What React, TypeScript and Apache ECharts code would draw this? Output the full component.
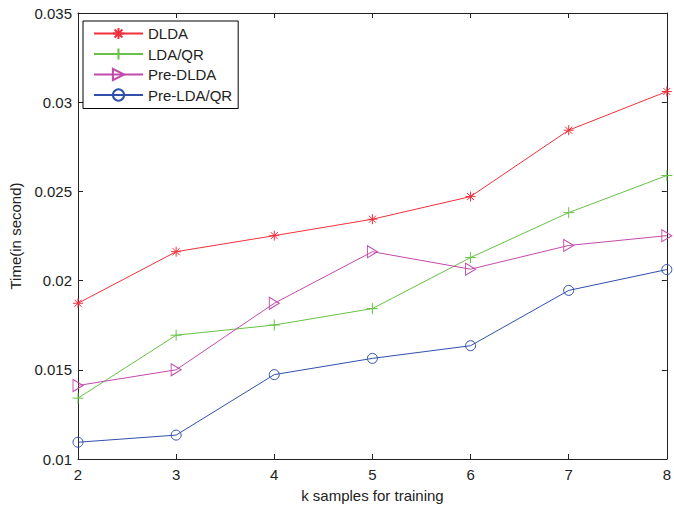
import React, { useEffect, useRef } from "react";
import * as echarts from "echarts";

const kValues = ["2", "3", "4", "5", "6", "7", "8"];
const dlda = [0.01873, 0.02162, 0.02252, 0.02344, 0.02471, 0.02843, 0.0306];
const ldaqr = [0.01341, 0.01694, 0.01751, 0.01843, 0.02129, 0.02381, 0.02589];
const preDlda = [0.01412, 0.015, 0.01873, 0.02162, 0.02064, 0.02197, 0.02252];
const preLdaqr = [0.01094, 0.01134, 0.01473, 0.01564, 0.01635, 0.01945, 0.02062];
const seriesNames = ["DLDA", "LDA/QR", "Pre-DLDA", "Pre-LDA/QR"];

const FONT = "Liberation Sans, Arial, Helvetica, sans-serif";
const asterisk = "path://M5,0L5,10M0,5L10,5M1.5,1.5L8.5,8.5M1.5,8.5L8.5,1.5";
const plus = "path://M5,0L5,10M0,5L10,5";
const triRight = "path://M0,0L10,5L0,10Z";

export default function App() {
  const ref = useRef<HTMLDivElement>(null);
  useEffect(() => {
    const chart = echarts.init(ref.current!, null, { renderer: "svg" });
    const mk = (name: string, data: number[], color: string, symbol: string, size: any, filled = false) => ({
      name,
      type: "line",
      data,
      symbol,
      symbolSize: size,
      showAllSymbol: true,
      lineStyle: { color, width: 1 },
      itemStyle: { color: filled ? color : "rgba(0,0,0,0)", borderColor: color, borderWidth: 1 },
      emphasis: { disabled: true },
    });
    chart.setOption({
      animation: false,
      textStyle: { fontFamily: FONT },
      grid: { left: 76, right: 3, top: 13, bottom: 42 },
      legend: {
        orient: "vertical",
        left: 83,
        top: 21,
        data: seriesNames,
        itemWidth: 49,
        itemHeight: 14,
        itemGap: 5.5,
        padding: [5, 6, 6, 10],
        borderColor: "#000",
        borderWidth: 1,
        backgroundColor: "#fff",
        textStyle: { fontSize: 15, color: "#222", fontFamily: FONT },
      },
      xAxis: [
        {
          type: "category",
          data: kValues,
          boundaryGap: false,
          name: "k samples for training",
          nameLocation: "middle",
          nameGap: 29,
          nameTextStyle: { fontSize: 15, color: "#222" },
          axisLine: { lineStyle: { color: "#222", width: 1 } },
          axisTick: { inside: true, length: 5, lineStyle: { color: "#222" } },
          axisLabel: { fontSize: 15, color: "#222", margin: 8 },
          splitLine: { show: false },
        },
        {
          type: "category",
          data: kValues,
          boundaryGap: false,
          position: "top",
          axisLine: { lineStyle: { color: "#222", width: 1 } },
          axisTick: { inside: true, length: 5, lineStyle: { color: "#222" } },
          axisLabel: { show: false },
        },
      ],
      yAxis: [
        {
          type: "value",
          min: 0.01,
          max: 0.035,
          interval: 0.005,
          name: "Time(in second)",
          nameLocation: "middle",
          nameGap: 55,
          nameTextStyle: { fontSize: 15, color: "#222" },
          axisLine: { show: true, lineStyle: { color: "#222", width: 1 } },
          axisTick: { show: true, inside: true, length: 5, lineStyle: { color: "#222" } },
          axisLabel: {
            fontSize: 15,
            color: "#222",
            margin: 6,
            formatter: (v: number) => String(parseFloat(v.toFixed(3))),
          },
          splitLine: { show: false },
        },
        {
          type: "value",
          min: 0.01,
          max: 0.035,
          interval: 0.005,
          position: "right",
          axisLine: { show: true, lineStyle: { color: "#222", width: 1 } },
          axisTick: { show: true, inside: true, length: 5, lineStyle: { color: "#222" } },
          axisLabel: { show: false },
          splitLine: { show: false },
        },
      ],
      series: [
        mk("DLDA", dlda, "#f0303c", asterisk, 10),
        mk("LDA/QR", ldaqr, "#66c245", plus, 11),
        mk("Pre-DLDA", preDlda, "#c34aaa", triRight, [10, 12]),
        mk("Pre-LDA/QR", preLdaqr, "#3050ac", "circle", 10),
      ],
    });
    return () => chart.dispose();
  }, []);
  return <div ref={ref} style={{ width: 674, height: 508, position: "absolute", left: 0, top: 0, background: "#fff" }} />;
}
